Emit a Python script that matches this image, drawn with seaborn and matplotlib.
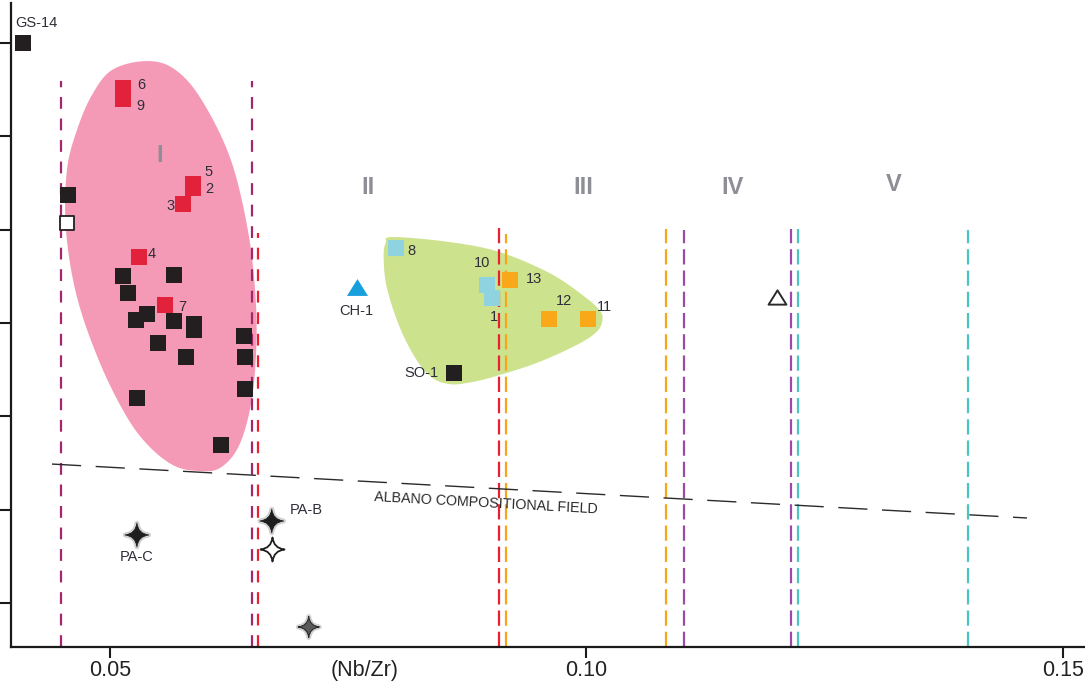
import numpy as np
import matplotlib
matplotlib.use("Agg")
import matplotlib.pyplot as plt
from matplotlib.path import Path
from matplotlib.patches import Polygon
import matplotlib.patheffects as pe
import seaborn as sns

sns.set_style("ticks")
plt.rcParams["font.family"] = ["Liberation Sans", "DejaVu Sans"]
plt.rcParams["lines.scale_dashes"] = False

# ---------------- sample data: Nb/Zr (x) against the second ratio (y) ----------------
gs14_x, gs14_y = [0.0409], [7.00]

black_x = [0.0456, 0.05136, 0.05671, 0.05189, 0.05388, 0.05273, 0.05671, 0.05881,
           0.05881, 0.06405, 0.05503, 0.06415, 0.05797, 0.06415, 0.05283, 0.06164]
black_y = [5.372, 4.504, 4.514, 4.322, 4.097, 4.032, 4.022, 3.989,
           3.925, 3.861, 3.786, 3.636, 3.636, 3.293, 3.197, 2.693]

open_sq_x, open_sq_y = [0.04549], [5.072]

red_labels = ["6", "9", "5", "2", "3", "4", "7"]
red_x = [0.05136, 0.05136, 0.0587, 0.0587, 0.05765, 0.0530, 0.05577]
red_y = [6.518, 6.400, 5.489, 5.447, 5.275, 4.707, 4.193]

cyan_labels = ["8", "10", "1"]
cyan_x = [0.07998, 0.08952, 0.09004]
cyan_y = [4.804, 4.407, 4.268]

orange_labels = ["13", "12", "11"]
orange_x = [0.09193, 0.09612, 0.10011]
orange_y = [4.461, 4.043, 4.043]

so1_x, so1_y = [0.08606], [3.464]
ch1_x, ch1_y = [0.07589], [4.386]
open_tri_x, open_tri_y = [0.12002], [4.279]

star_labels = ["PA-C", "PA-B"]
star_x = [0.05283, 0.06698]
star_y = [1.729, 1.879]
open_star_x, open_star_y = [0.06698], [1.579]
grey_star_x, grey_star_y = [0.07086], [0.743]

# ---------------- compositional fields ----------------
boundary_x = [0.04486, 0.06488, 0.06551, 0.09078, 0.09151,
              0.10839, 0.11027, 0.12149, 0.12222, 0.14004]
boundary_top = [6.593, 6.593, 4.964, 5.018, 4.954,
                5.007, 4.996, 5.007, 5.007, 4.996]

field_names = ["I", "II", "III", "IV", "V"]
field_x = [0.05524, 0.07704, 0.09969, 0.11531, 0.13229]
field_y = [5.80, 5.457, 5.457, 5.457, 5.489]

albano_x = [0.04392, 0.14622]
albano_y = [2.489, 1.911]

pink_x = [0.05367, 0.05660, 0.05943, 0.06258, 0.06447, 0.06530, 0.06530, 0.06468,
          0.06342, 0.06153, 0.05943, 0.05681, 0.05419, 0.05178, 0.04895, 0.04654,
          0.04539, 0.04549, 0.04654, 0.04811, 0.05021]
pink_y = [6.807, 6.732, 6.422, 5.779, 4.997, 4.246, 3.604, 3.068,
          2.661, 2.446, 2.414, 2.468, 2.671, 2.993, 3.572, 4.279,
          4.996, 5.639, 6.068, 6.443, 6.711]

green_x = [0.07966, 0.08564, 0.09088, 0.09612, 0.09958, 0.10136, 0.10168, 0.10105,
           0.09895, 0.09476, 0.09015, 0.08742, 0.08564, 0.08386, 0.08218, 0.08040,
           0.07904, 0.07872, 0.07893]
green_y = [4.922, 4.868, 4.761, 4.536, 4.300, 4.139, 4.032, 3.904,
           3.764, 3.572, 3.421, 3.357, 3.346, 3.411, 3.604, 3.957,
           4.386, 4.707, 4.857]

x_ticks = [0.05, 0.10, 0.15]
x_ticklabels = ["0.05", "0.10", "0.15"]
y_ticks = [1, 2, 3, 4, 5, 6, 7]

# ---------------- styling ----------------
boundary_colors = ["#a3266f", "#a3266f", "#e8202f", "#e8202f", "#f7a51b",
                   "#f7a51b", "#9a4aa8", "#9a4aa8", "#4cc4c4", "#4cc4c4"]
boundary_dashes = [(8.5, 7.0), (8.5, 7.0), (8.5, 7.0), (11, 4.3), (11, 4.3),
                   (11, 4.3), (11, 4.3), (11, 4.3), (11, 4.3), (11, 4.3)]
label_color = "#2e2e38"
field_color = "#8e8e96"

# label offsets in points (dx, dy, horizontal alignment)
red_offsets = {"6": (10, 2.5, "left"), "9": (10, -5, "left"), "5": (8.6, 9, "left"),
               "2": (8.6, -0.4, "left"), "3": (-5.8, -1.4, "right"),
               "4": (6.5, 2, "left"), "7": (9.4, -1.5, "left")}
cyan_offsets = {"8": (8.6, -2, "left"), "10": (-3, 16, "center"), "1": (1.4, -13.7, "center")}
orange_offsets = {"13": (11.5, 0.7, "left"), "12": (10.8, 13, "center"), "11": (12.2, 8.6, "center")}
star_offsets = {"PA-C": (0, -16, "center"), "PA-B": (13, 8, "left")}


def smooth_closed(xs, ys, n=40):
    """Closed Catmull-Rom outline through the given boundary vertices."""
    P = np.column_stack([xs, ys])
    m = len(P)
    t = np.linspace(0, 1, n, endpoint=False)[:, None]
    segs = []
    for i in range(m):
        p0, p1, p2, p3 = P[i - 1], P[i], P[(i + 1) % m], P[(i + 2) % m]
        segs.append(0.5 * (2 * p1 + (-p0 + p2) * t
                           + (2 * p0 - 5 * p1 + 4 * p2 - p3) * t ** 2
                           + (-p0 + 3 * p1 - 3 * p2 + p3) * t ** 3))
    return np.vstack(segs)


# four-pointed star with concave sides
c = 0.1
star_path = Path(
    [(0, 1), (c, c), (1, 0), (c, -c), (0, -1), (-c, -c), (-1, 0), (-c, c), (0, 1), (0, 1)],
    [Path.MOVETO, Path.CURVE3, Path.CURVE3, Path.CURVE3, Path.CURVE3,
     Path.CURVE3, Path.CURVE3, Path.CURVE3, Path.CURVE3, Path.CLOSEPOLY])
# slightly squat triangle
tri_path = Path([(-1, -0.8), (1, -0.8), (0, 0.8), (-1, -0.8)],
                [Path.MOVETO, Path.LINETO, Path.LINETO, Path.CLOSEPOLY])

fig = plt.figure(figsize=(10.85, 6.81), dpi=100)
ax = fig.add_axes([0.01014, 0.04993, 0.98986, 0.9457])
x_min, x_max = 0.03962, 0.15231
y_min, y_max = 0.5286, 7.43
ax.set_xlim(x_min, x_max)
ax.set_ylim(y_min, y_max)

# field envelopes
ax.add_patch(Polygon(smooth_closed(pink_x, pink_y), closed=True,
                     facecolor="#f59ab6", edgecolor="none", zorder=1))
ax.add_patch(Polygon(smooth_closed(green_x, green_y), closed=True,
                     facecolor="#cde28d", edgecolor="none", zorder=1))

# boundaries between fields
for bx, top, col, dash in zip(boundary_x, boundary_top, boundary_colors, boundary_dashes):
    ax.vlines(bx, y_min, top, colors=col, linewidth=1.6,
              linestyles=(0, dash), zorder=2)

# Albano compositional field limit
sns.lineplot(x=albano_x, y=albano_y, ax=ax, color="#2a2a2a", linewidth=1.0,
             zorder=2, sort=False, estimator=None)
ax.lines[-1].set_dashes((21, 10.5))
p0 = ax.transData.transform((albano_x[0], albano_y[0]))
p1 = ax.transData.transform((albano_x[1], albano_y[1]))
ang = np.degrees(np.arctan2(p1[1] - p0[1], p1[0] - p0[0]))
ax.text(0.08941, 2.071, "ALBANO COMPOSITIONAL FIELD", rotation=ang,
        rotation_mode="anchor", ha="center", va="center", fontsize=10.3,
        color="#2a2a2a", zorder=2)

# samples
sq = 133
sns.scatterplot(x=black_x + gs14_x + so1_x, y=black_y + gs14_y + so1_y, ax=ax,
                marker="s", s=sq, color="#231f20", linewidth=0, zorder=4)
sns.scatterplot(x=open_sq_x, y=open_sq_y, ax=ax, marker="s", s=110,
                facecolor="white", edgecolor="#231f20", linewidth=1.3, zorder=4)
sns.scatterplot(x=red_x, y=red_y, ax=ax, marker="s", s=sq, color="#e2223a",
                linewidth=0, zorder=4)
sns.scatterplot(x=cyan_x, y=cyan_y, ax=ax, marker="s", s=sq, color="#8fd3e0",
                linewidth=0, zorder=4)
sns.scatterplot(x=orange_x, y=orange_y, ax=ax, marker="s", s=sq, color="#f9a81a",
                linewidth=0, zorder=4)
sns.scatterplot(x=ch1_x, y=ch1_y, ax=ax, marker=tri_path, s=230, color="#18a0dc",
                linewidth=0, zorder=4)
sns.scatterplot(x=open_tri_x, y=open_tri_y, ax=ax, marker=tri_path, s=165,
                facecolor="white", edgecolor="#2a2a2a", linewidth=1.4, zorder=4)

glow = [pe.Stroke(linewidth=3.5, foreground="#9a9a9a", alpha=0.45), pe.Normal()]
sns.scatterplot(x=star_x, y=star_y, ax=ax, marker=star_path, s=290, color="#1e1e1e",
                linewidth=0.6, edgecolor="#1e1e1e", zorder=4, path_effects=glow)
sns.scatterplot(x=open_star_x, y=open_star_y, ax=ax, marker=star_path, s=300,
                facecolor="white", edgecolor="#1e1e1e", linewidth=1.3, zorder=4)
sns.scatterplot(x=grey_star_x, y=grey_star_y, ax=ax, marker=star_path, s=230,
                color="#5a5a5a", edgecolor="#2a2a2a", linewidth=0.8, zorder=4,
                path_effects=glow)


def annotate(labels, xs, ys, offsets):
    for lab, x, y in zip(labels, xs, ys):
        dx, dy, ha = offsets[lab]
        ax.annotate(lab, (x, y), xytext=(dx, dy), textcoords="offset points",
                    ha=ha, va="center", fontsize=10.5, color=label_color, zorder=5)


annotate(red_labels, red_x, red_y, red_offsets)
annotate(cyan_labels, cyan_x, cyan_y, cyan_offsets)
annotate(orange_labels, orange_x, orange_y, orange_offsets)
annotate(star_labels, star_x, star_y, star_offsets)
annotate(["GS-14"], gs14_x, gs14_y, {"GS-14": (-5.4, 14.6, "left")})
annotate(["SO-1"], so1_x, so1_y, {"SO-1": (-11, 0, "right")})
annotate(["CH-1"], ch1_x, ch1_y, {"CH-1": (0, -17, "center")})

for name, fx, fy in zip(field_names, field_x, field_y):
    ax.text(fx, fy, name, ha="center", va="center", fontsize=17,
            fontweight="bold", color=field_color, zorder=3)

# axes
sns.despine(ax=ax, top=True, right=True)
for s in ("left", "bottom"):
    ax.spines[s].set_linewidth(1.6)
    ax.spines[s].set_color("#1a1a1a")
ax.set_xticks(x_ticks)
ax.set_xticklabels(x_ticklabels, fontsize=15.5, color="#222222")
ax.set_yticks(y_ticks)
ax.set_yticklabels([])
ax.tick_params(axis="both", direction="out", length=8, width=1.5, color="#1a1a1a", pad=1.5)
ax.set_xlabel("")
ax.set_ylabel("")
ax.annotate("(Nb/Zr)", xy=(0.07673, 0), xycoords=("data", "axes fraction"),
            xytext=(0, -9.5), textcoords="offset points", ha="center", va="top",
            fontsize=15.5, color="#222222", annotation_clip=False)

fig.savefig("out.png", dpi=100)
